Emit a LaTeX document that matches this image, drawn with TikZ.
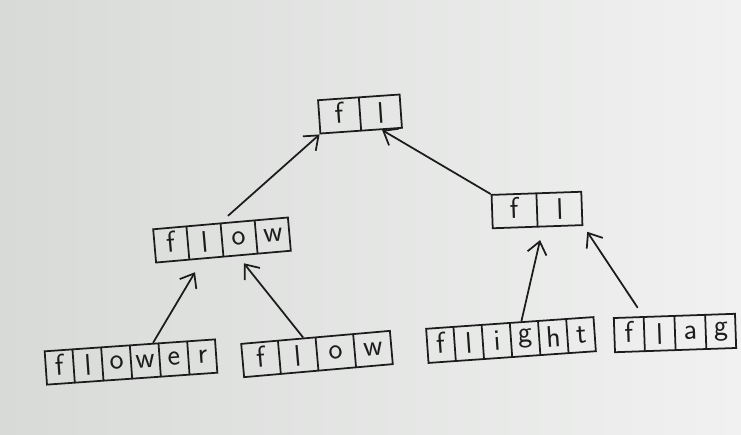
\documentclass[tikz,border=0pt]{standalone}
\usepackage{tikz}
\usetikzlibrary{shapes.multipart,arrows.meta}

\definecolor{paperL}{RGB}{216,218,216}
\definecolor{paperR}{RGB}{240,241,240}
\definecolor{pen}{RGB}{28,28,28}

\begin{document}
\begin{tikzpicture}[x=0.02cm, y=-0.02cm,
        word/.style={rectangle split, rectangle split horizontal, rectangle split parts=#1,
            draw=pen, line width=1pt, inner xsep=0pt, inner ysep=2pt, align=center,
            text height=12pt, text depth=3pt, font=\sffamily\fontsize{17}{20}\selectfont, text=pen},
        arrow/.style={->, >={Straight Barb[length=7pt, width=11pt]}, draw=pen, line width=1pt}
    ]
        \shade[left color=paperL, right color=paperR] (0,0) rectangle (741,434);
        \useasboundingbox (0,0) rectangle (741,434);

        \node[word=2, text width=0.8cm, rotate=4] (root) at (360,114) {f \nodepart{two} l};
        \node[word=4, text width=0.65cm, rotate=5] (flowmid) at (222,240) {f \nodepart{two} l \nodepart{three} o \nodepart{four} w};
        \node[word=2, text width=0.88cm, rotate=2] (rightfl) at (537,210) {f \nodepart{two} l};
        \node[word=6, text width=0.54cm, rotate=4] (flower) at (131,362) {f \nodepart{two} l \nodepart{three} o \nodepart{four} w \nodepart{five} e \nodepart{six} r};
        \node[word=4, text width=0.72cm, rotate=5] (flowbot) at (317,354) {f \nodepart{two} l \nodepart{three} o \nodepart{four} w};
        \node[word=6, text width=0.53cm, rotate=4] (flight) at (511,340) {f \nodepart{two} l \nodepart{three} i \nodepart{four} g \nodepart{five} h \nodepart{six} t};
        \node[word=4, text width=0.58cm, rotate=2] (flag) at (675,333) {f \nodepart{two} l \nodepart{three} a \nodepart{four} g};

        \draw[arrow, shorten <=0.2cm] (flowmid.north) -- (root.south west);
        \draw[arrow] (rightfl.north west) -- (root.-40);
        \draw[arrow, shorten >=0.3cm] (flower.37) -- (flowmid.-140);
        \draw[arrow, shorten >=0.18cm] (flowbot.125) -- (flowmid.-50);
        \draw[arrow, shorten >=0.26cm] (flight.57) -- (rightfl.-73);
        \draw[arrow, shorten <=0.2cm, shorten >=0.14cm] (flag.150) -- (rightfl.south east);
    \end{tikzpicture}
\end{document}
